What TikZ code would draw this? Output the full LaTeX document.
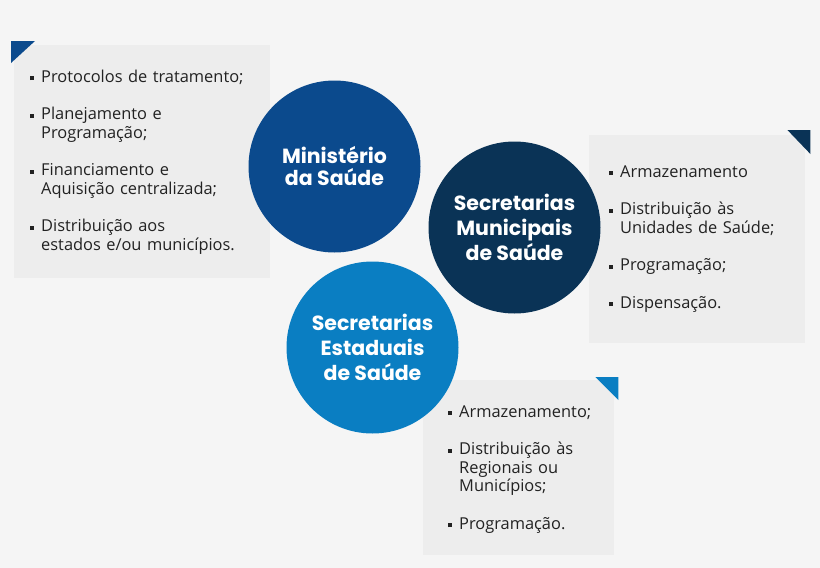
\documentclass[tikz,border=0pt]{standalone}
\usepackage{fontspec}
\setmainfont{Open Sans}
\newfontfamily\titlefont{Poppins}
\usetikzlibrary{calc,positioning}
\definecolor{fundo}{HTML}{F5F5F5}
\definecolor{quadrocor}{HTML}{EDEDED}
\definecolor{azulms}{HTML}{0B4A8D}
\definecolor{azulsms}{HTML}{0A3356}
\definecolor{azulses}{HTML}{0A7EC2}
\definecolor{texto}{HTML}{222222}
\tikzstyle{orgao} = [circle, 
    inner sep=0pt, 
    minimum size=172pt, 
    text=white, 
    align=center, 
    font=\titlefont\bfseries\fontsize{20.5}{25}\selectfont]
\tikzstyle{quadro} = [rectangle, fill=quadrocor, inner sep=0pt, anchor=north west]
\tikzstyle{lista} = [inner sep=0pt, text width=260pt, anchor=north west, text=texto,
    font=\fontsize{16.4}{18.5}\selectfont,
    execute at begin node={\setlength{\parskip}{0pt}\raggedright}]
% um topico com marcador quadrado e recuo pendente
\newcommand{\topico}[1]{\hangindent=11pt\hangafter=1\noindent%
    \makebox[11pt][l]{\rule{0pt}{13pt}\rule[2pt]{4pt}{4pt}}#1\par
    \setlength{\parskip}{19pt}}

\begin{document}
\begin{tikzpicture}[x=1pt, y=-1pt]
  \fill[fundo] (0,0) rectangle (820,568);
  \useasboundingbox (0,0) rectangle (820,568);
  % quadros
  \node[quadro, minimum width=256pt, minimum height=233pt] (qms) at (14,45) {};
  \node[quadro, minimum width=216pt, minimum height=208pt] (qsms) at (589,135) {};
  \node[quadro, minimum width=191pt, minimum height=175pt] (qses) at (423,380) {};
  \fill[azulms] ($(qms.north west)+(-3,-4)$) -- ++(24,0) -- ++(-24,22) -- cycle;
  \fill[azulsms] ($(qsms.north east)+(5,-5)$) -- ++(-23,0) -- ++(23,24) -- cycle;
  \fill[azulses] ($(qses.north east)+(4,-3)$) -- ++(-23,0) -- ++(23,23) -- cycle;
  % circulos
  \node[orgao, fill=azulms] (ms) at (334.5,166.5) {\raisebox{-3pt}{Ministério}\\da Saúde};
  \node[orgao, fill=azulsms] (sms) at (514.5,227.5) {Secretarias\\Municipais\\de Saúde};
  \node[orgao, fill=azulses] (ses) at (372.5,347.5) {Secretarias\\Estaduais\\de Saúde};
  % listas
  \node[lista] (lms) at ($(qms.north west)+(16,24)$) {%
    \topico{Protocolos de tratamento;}
    \topico{Planejamento e\newline Programação;}
    \topico{Financiamento e\newline Aquisição centralizada;}
    \topico{Distribuição aos\newline estados e/ou municípios.}};
  \node[lista] (lsms) at ($(qsms.north west)+(20,29)$) {%
    \topico{Armazenamento}
    \topico{Distribuição às\newline Unidades de Saúde;}
    \topico{Programação;}
    \topico{Dispensação.}};
  \node[lista] (lses) at ($(qses.north west)+(25,24)$) {%
    \topico{Armazenamento;}
    \topico{Distribuição às\newline Regionais ou\newline Municípios;}
    \topico{Programação.}};
\end{tikzpicture}
\end{document}
